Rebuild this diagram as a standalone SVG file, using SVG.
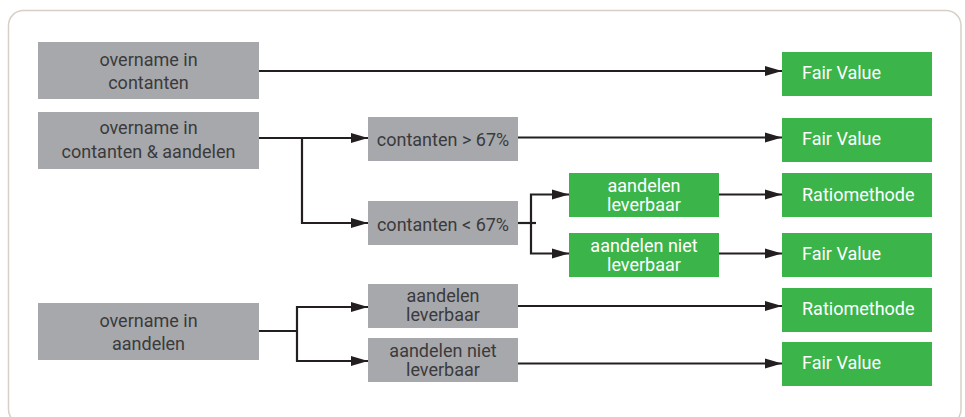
<svg xmlns="http://www.w3.org/2000/svg" width="965" height="417" viewBox="0 0 965 417">
<defs>
<style>
.frame{fill:#ffffff;stroke:#d8d0c7;stroke-width:1.5}
.gray rect{fill:#a7a8ab}
.green rect{fill:#3bb54a}
text{font-family:"Roboto","Liberation Sans",sans-serif;font-size:18px}
.gray text{fill:#3a3a3c;text-anchor:middle}
.green text{fill:#ffffff}
.green.c text{text-anchor:middle}
.conn path{fill:none;stroke:#231f20;stroke-width:2.2}
</style>
<marker id="arr" markerUnits="userSpaceOnUse" markerWidth="18" markerHeight="12" refX="17" refY="6" orient="auto">
<path d="M0,1 L17,6 L0,11 Z" fill="#231f20"/>
</marker>
</defs>
<rect width="965" height="417" fill="#ffffff"/>
<rect class="frame" x="8.5" y="10.5" width="952.5" height="414" rx="15"/>

<g class="conn">
<path d="M259,71 H782" marker-end="url(#arr)"/>
<path d="M259,138 H368" marker-end="url(#arr)"/>
<path d="M302,138 V223 H368" marker-end="url(#arr)"/>
<path d="M518,137.5 H782" marker-end="url(#arr)"/>
<path d="M518,223 H536"/>
<path d="M531,223 V194.5 H569" marker-end="url(#arr)"/>
<path d="M531,223 V253.5 H569" marker-end="url(#arr)"/>
<path d="M719,194.5 H782" marker-end="url(#arr)"/>
<path d="M719,253.5 H782" marker-end="url(#arr)"/>
<path d="M259,331 H297"/>
<path d="M297,331 V307 H368" marker-end="url(#arr)"/>
<path d="M297,331 V361 H368" marker-end="url(#arr)"/>
<path d="M518,306 H782" marker-end="url(#arr)"/>
<path d="M518,363.5 H782" marker-end="url(#arr)"/>
</g>

<g id="n-contanten" class="gray">
<rect x="38" y="42" width="221" height="57"/>
<text x="148.5" y="66">overname in</text>
<text x="148.5" y="89">contanten</text>
</g>
<g id="n-contanten-aandelen" class="gray">
<rect x="38" y="112" width="221" height="57"/>
<text x="148.5" y="134">overname in</text>
<text x="148.5" y="157.5">contanten &amp; aandelen</text>
</g>
<g id="n-aandelen" class="gray">
<rect x="38" y="303" width="221" height="57"/>
<text x="148.5" y="327">overname in</text>
<text x="148.5" y="350">aandelen</text>
</g>
<g id="n-gt67" class="gray">
<rect x="368" y="117" width="150" height="44"/>
<text x="443" y="146">contanten &gt; 67%</text>
</g>
<g id="n-lt67" class="gray">
<rect x="368" y="201" width="150" height="44"/>
<text x="443" y="230.5">contanten &lt; 67%</text>
</g>
<g id="n-lev-gray" class="gray">
<rect x="368" y="284" width="150" height="44"/>
<text x="443" y="301.5">aandelen</text>
<text x="443" y="320.5">leverbaar</text>
</g>
<g id="n-nietlev-gray" class="gray">
<rect x="368" y="338" width="150" height="44"/>
<text x="443" y="357">aandelen niet</text>
<text x="443" y="376">leverbaar</text>
</g>
<g id="n-lev-green" class="green c">
<rect x="569" y="173" width="150" height="44"/>
<text x="644" y="192">aandelen</text>
<text x="644" y="211">leverbaar</text>
</g>
<g id="n-nietlev-green" class="green c">
<rect x="569" y="233" width="150" height="44"/>
<text x="644" y="252">aandelen niet</text>
<text x="644" y="271">leverbaar</text>
</g>
<g id="r-fv1" class="green">
<rect x="782" y="52" width="150" height="44"/>
<text x="802" y="79">Fair Value</text>
</g>
<g id="r-fv2" class="green">
<rect x="782" y="118" width="150" height="44"/>
<text x="802" y="145">Fair Value</text>
</g>
<g id="r-ratio1" class="green">
<rect x="782" y="173" width="150" height="44"/>
<text x="802" y="200.5">Ratiomethode</text>
</g>
<g id="r-fv3" class="green">
<rect x="782" y="233" width="150" height="44"/>
<text x="802" y="260">Fair Value</text>
</g>
<g id="r-ratio2" class="green">
<rect x="782" y="288" width="150" height="44"/>
<text x="802" y="315">Ratiomethode</text>
</g>
<g id="r-fv4" class="green">
<rect x="782" y="342" width="150" height="44"/>
<text x="802" y="369">Fair Value</text>
</g>
</svg>
